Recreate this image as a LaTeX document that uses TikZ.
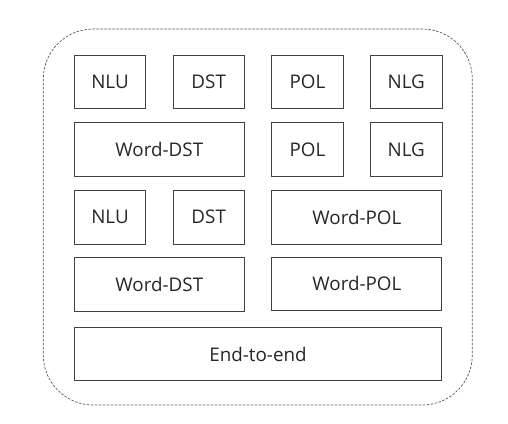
\documentclass[tikz,border=0pt]{standalone}
\usepackage{fontspec}
\setmainfont{Open Sans}
\definecolor{boxline}{HTML}{404040}
\definecolor{boxtext}{HTML}{262626}
\definecolor{frameline}{HTML}{555555}
\tikzset{
  modbox/.style={draw=boxline,line width=0.9pt,minimum height=53.5pt,inner sep=0pt,
    text=boxtext,font=\fontsize{18.8}{20}\selectfont},
  single/.style={modbox,minimum width=71.5pt},
  double/.style={modbox,minimum width=170pt},
}
\begin{document}
\begin{tikzpicture}[x=1pt,y=-1pt]
\useasboundingbox (0,0) rectangle (508,423);
\draw[frameline,line width=0.7pt,dash pattern=on 2.5pt off 1.5pt,rounded corners=50pt]
  (43.3,29) rectangle (472.3,405);
\node[single] (nlu1) at (110,82) {NLU};
\node[single] (dst1) at (208.7,82) {DST};
\node[single] (pol1) at (307.4,82) {POL};
\node[single] (nlg1) at (406.3,82) {NLG};
\node[double] (wdst2) at (159.3,149.4) {Word-DST};
\node[single] (pol2) at (307.4,149.4) {POL};
\node[single] (nlg2) at (406.3,149.4) {NLG};
\node[single] (nlu3) at (110,217.2) {NLU};
\node[single] (dst3) at (208.7,217.2) {DST};
\node[double] (wpol3) at (356.9,217.2) {Word-POL};
\node[double] (wdst4) at (159.3,284.6) {Word-DST};
\node[double] (wpol4) at (356.9,283.7) {Word-POL};
\node[modbox,minimum width=367.4pt] (e2e) at (258,354.1) {End-to-end};
\end{tikzpicture}
\end{document}
